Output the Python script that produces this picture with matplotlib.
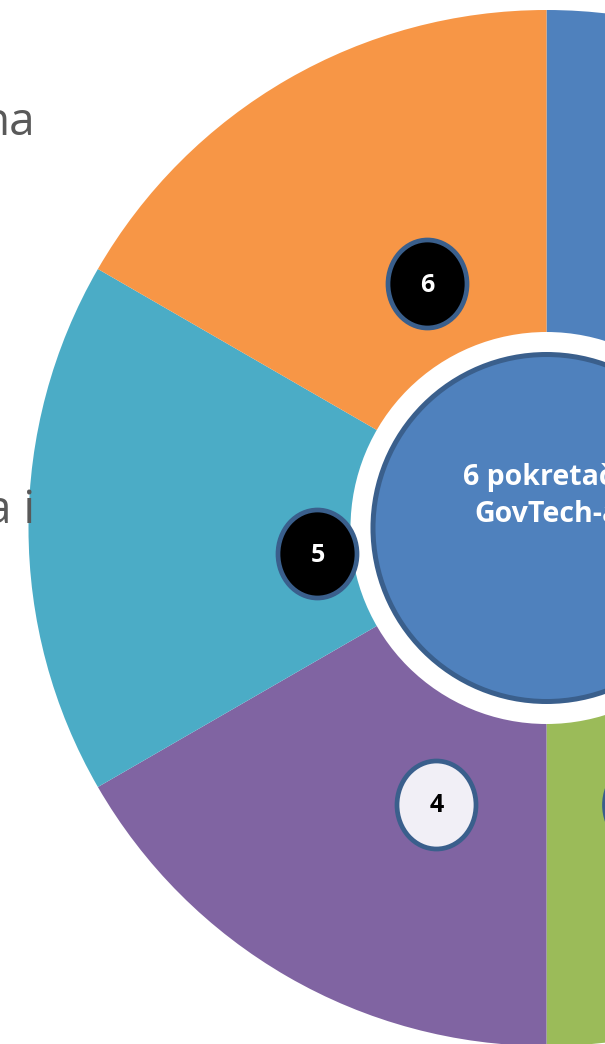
import matplotlib
matplotlib.use("Agg")
import matplotlib.pyplot as plt
from matplotlib.patches import Circle, Ellipse

# ---- data ----
slice_values = [1, 1, 1, 1, 1, 1]
slice_colors = ["#4F81BD", "#C0504D", "#9BBB59", "#8064A2", "#4BACC6", "#F79646"]
center_lines = ["6 pokretača", "GovTech-a"]
side_texts = ["na", "a i"]
badge_labels = ["6", "5", "4", ""]
badge_fills = ["#000000", "#000000", "#F1EFF6", "#F1EFF6"]
badge_text_colors = ["white", "white", "black", "black"]

W, H = 605, 1044
fig = plt.figure(figsize=(W / 100, H / 100), dpi=100)
ax = fig.add_axes([0, 0, 1, 1])

def Y(y):
    return H - y

cx, cy = 546.5, Y(528)
ax.pie(slice_values, colors=slice_colors, startangle=90, counterclock=False,
       radius=518, center=(cx, cy), wedgeprops=dict(linewidth=0))

ax.add_patch(Circle((cx, cy), 196, facecolor="white", edgecolor="none", zorder=3))
ax.add_patch(Circle((cx, cy), 173.5, facecolor="#4F81BD", edgecolor="#3A5F8C",
                    linewidth=3.6, zorder=4))

font = "Open Sans"
ax.text(cx, Y(477), center_lines[0], ha="center", va="center", color="white",
        fontsize=20.5, fontweight="bold", family=font, zorder=5)
ax.text(cx, Y(515), center_lines[1], ha="center", va="center", color="white",
        fontsize=20.5, fontweight="bold", family=font, zorder=5)

# badges (layout positions)
badge_pos = [(427.5, 284), (317.5, 554), (436.5, 805), (644, 805)]
for (bx, by), lab, fc, tc in zip(badge_pos, badge_labels, badge_fills, badge_text_colors):
    ax.add_patch(Ellipse((bx, Y(by)), 79, 88, facecolor=fc, edgecolor="#3A5F8C",
                         linewidth=3.4, zorder=6))
    if lab:
        ax.text(bx, Y(by) - 1, lab, ha="center", va="center", color=tc, fontsize=18,
                fontweight="bold", family=font, zorder=7)

# cut-off side texts
ax.text(35, Y(135), side_texts[0], ha="right", va="baseline", color="#595959",
        fontsize=33, family=font, zorder=8)
ax.text(35, Y(523), side_texts[1], ha="right", va="baseline", color="#595959",
        fontsize=33, family=font, zorder=8)

ax.set_xlim(0, W)
ax.set_ylim(0, H)
ax.set_aspect("equal")
ax.axis("off")
fig.savefig("out.png", dpi=100)
